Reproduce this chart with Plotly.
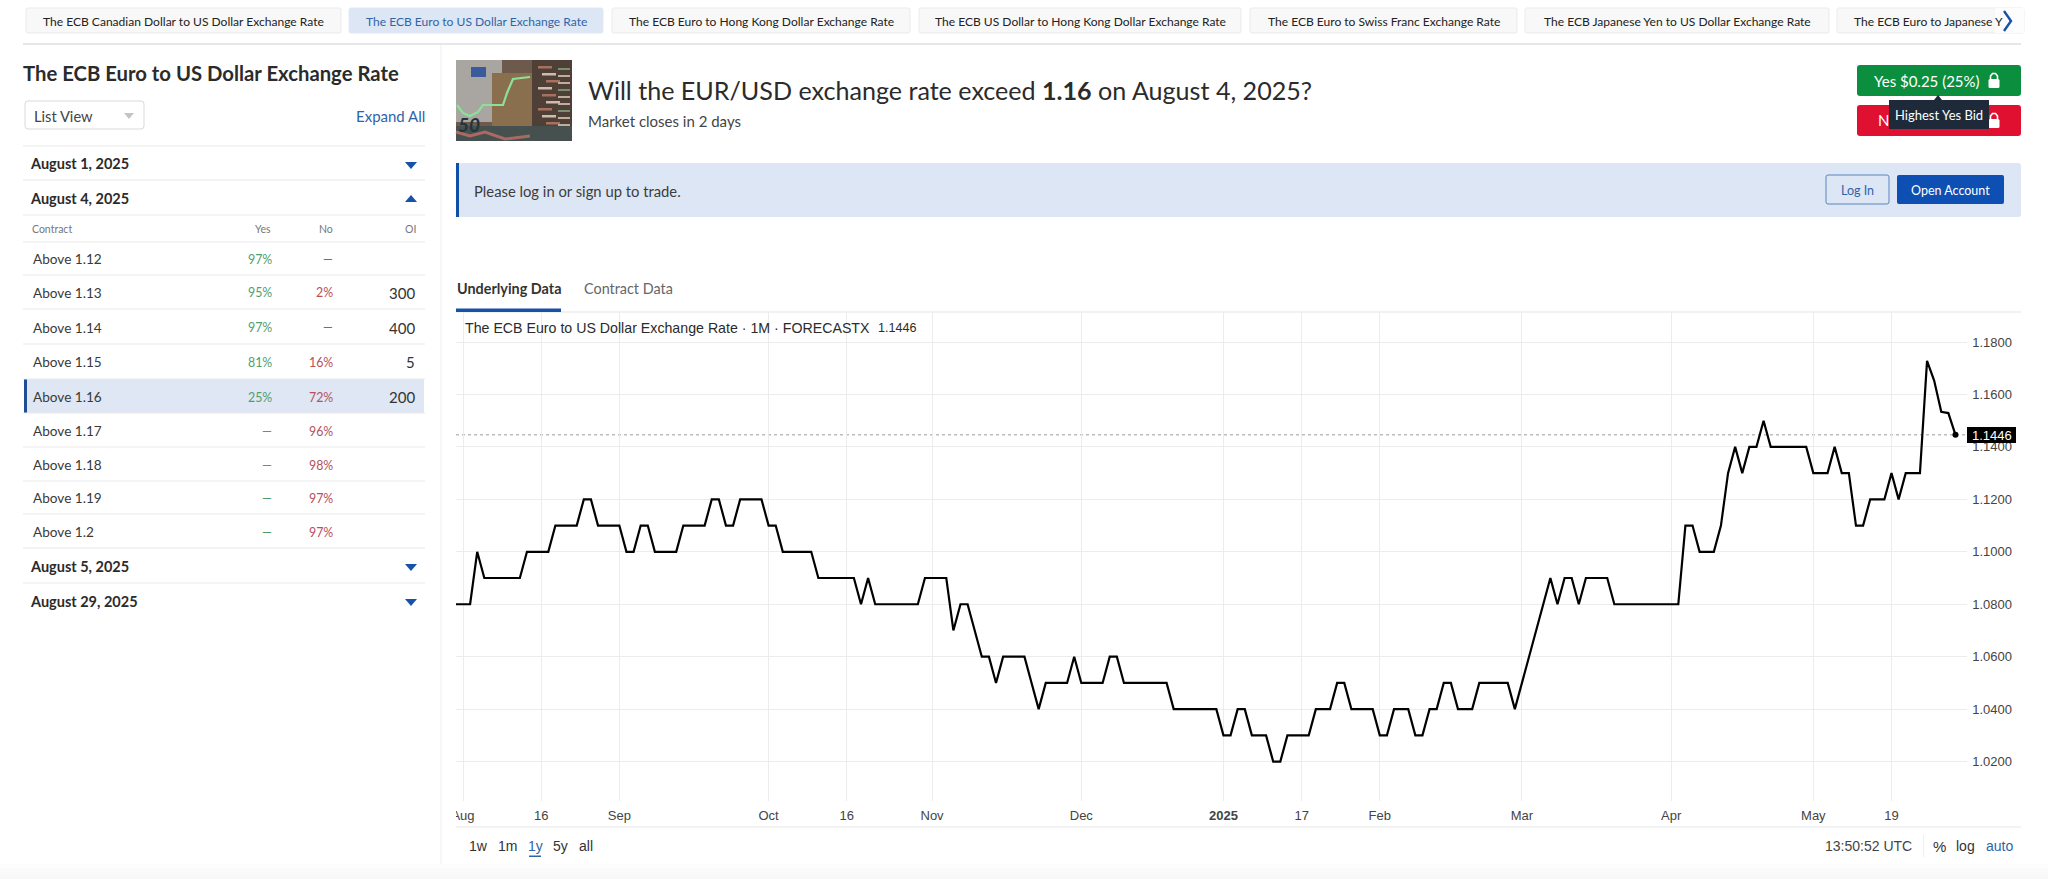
import pandas as pd
import plotly.graph_objects as go

W, H = 2048, 879
UI_FONT = "Lato"
CHART_FONT = "Liberation Sans"
BLUE = "#1552a8"
GRID = "#ececec"

# ---- data ----
holidays = ["2024-12-25", "2024-12-26", "2025-01-01", "2025-04-18", "2025-04-21", "2025-05-01"]
dates = [d.strftime("%Y-%m-%d") for d in pd.bdate_range("2024-07-31", "2025-05-30") if d.strftime("%Y-%m-%d") not in holidays]

rate = [
    1.08, 1.08, 1.08, 1.10, 1.09, 1.09, 1.09, 1.09, 1.09, 1.09, 1.10, 1.10, 1.10, 1.10,
    1.11, 1.11, 1.11, 1.11, 1.12, 1.12, 1.11, 1.11, 1.11, 1.11, 1.10, 1.10, 1.11, 1.11,
    1.10, 1.10, 1.10, 1.10, 1.11, 1.11, 1.11, 1.11, 1.12, 1.12, 1.11, 1.11, 1.12, 1.12,
    1.12, 1.12, 1.11, 1.11, 1.10, 1.10, 1.10, 1.10, 1.10, 1.09, 1.09, 1.09, 1.09, 1.09,
    1.09, 1.08, 1.09, 1.08, 1.08, 1.08, 1.08, 1.08, 1.08, 1.08, 1.09, 1.09, 1.09, 1.09,
    1.07, 1.08, 1.08, 1.07, 1.06, 1.06, 1.05, 1.06, 1.06, 1.06, 1.06, 1.05, 1.04, 1.05,
    1.05, 1.05, 1.05, 1.06, 1.05, 1.05, 1.05, 1.05, 1.06, 1.06, 1.05, 1.05, 1.05, 1.05,
    1.05, 1.05, 1.05, 1.04, 1.04, 1.04, 1.04, 1.04, 1.04, 1.04, 1.03, 1.03, 1.04, 1.04,
    1.03, 1.03, 1.03, 1.02, 1.02, 1.03, 1.03, 1.03, 1.03, 1.04, 1.04, 1.04, 1.05, 1.05,
    1.04, 1.04, 1.04, 1.04, 1.03, 1.03, 1.04, 1.04, 1.04, 1.03, 1.03, 1.04, 1.04, 1.05,
    1.05, 1.04, 1.04, 1.04, 1.05, 1.05, 1.05, 1.05, 1.05, 1.04, 1.05, 1.06, 1.07, 1.08,
    1.09, 1.08, 1.09, 1.09, 1.08, 1.09, 1.09, 1.09, 1.09, 1.08, 1.08, 1.08, 1.08, 1.08,
    1.08, 1.08, 1.08, 1.08, 1.08, 1.11, 1.11, 1.10, 1.10, 1.10, 1.11, 1.13, 1.14, 1.13,
    1.14, 1.14, 1.15, 1.14, 1.14, 1.14, 1.14, 1.14, 1.14, 1.13, 1.13, 1.13, 1.14, 1.13,
    1.13, 1.11, 1.11, 1.12, 1.12, 1.12, 1.13, 1.12, 1.13, 1.13, 1.13, 1.1728, 1.1653,
    1.1534, 1.1529, 1.1446,
]
last_price = 1.1446

x_tick_dates = ["2024-08-01", "2024-08-16", "2024-09-02", "2024-10-01", "2024-10-16", "2024-11-01", "2024-12-02",
                "2025-01-02", "2025-01-17", "2025-02-03", "2025-03-03", "2025-04-01", "2025-05-02", "2025-05-19"]
x_tick_labels = ["Aug", "16", "Sep", "Oct", "16", "Nov", "Dec", "<b>2025</b>", "17", "Feb", "Mar", "Apr", "May", "19"]
y_ticks = [1.02, 1.04, 1.06, 1.08, 1.10, 1.12, 1.14, 1.16, 1.18]

tab_names = ["The ECB Canadian Dollar to US Dollar Exchange Rate", "The ECB Euro to US Dollar Exchange Rate",
             "The ECB Euro to Hong Kong Dollar Exchange Rate", "The ECB US Dollar to Hong Kong Dollar Exchange Rate",
             "The ECB Euro to Swiss Franc Exchange Rate", "The ECB Japanese Yen to US Dollar Exchange Rate",
             "The ECB Euro to Japanese Y"]
contracts = ["Above 1.12", "Above 1.13", "Above 1.14", "Above 1.15", "Above 1.16", "Above 1.17", "Above 1.18", "Above 1.19", "Above 1.2"]
yes_pct = ["97%", "95%", "97%", "81%", "25%", "—", "—", "—", "—"]
no_pct = ["—", "2%", "—", "16%", "72%", "96%", "98%", "97%", "97%"]
open_int = ["", "300", "400", "5", "200", "", "", "", ""]

# ---- layout numbers (pixels) ----
tab_edges = [(26, 341), (349, 603), (612, 910), (919, 1241), (1250, 1517), (1525, 1829), (1837, 2024)]
row_y = [259, 293, 328, 362, 397, 431, 465, 498, 532]
row_lines = [180, 215, 242, 275, 309, 344, 379, 413, 447, 481, 514, 548, 583]
plot_l, plot_r, plot_t, plot_b = 456, 1966.6, 312, 801


def fx(x):
    return x / W


def fy(y):
    return 1 - y / H


shapes = []
notes = []


def rect(x0, y0, x1, y1, fill, line=None, lw=1, layer="below"):
    shapes.append(dict(type="rect", xref="paper", yref="paper", x0=fx(x0), x1=fx(x1), y0=fy(y0), y1=fy(y1),
                       fillcolor=fill, line=dict(color=line or fill, width=lw if line else 0), layer=layer))


def rrect(x0, y0, x1, y1, r, fill, line=None, lw=1, layer="below"):
    # rounded box as a svg path in paper coordinates
    a, b, c, d = fx(x0), fx(x1), fy(y0), fy(y1)
    rx, ry = r / W, r / H
    p = (f"M {a + rx} {c} L {b - rx} {c} Q {b} {c} {b} {c - ry} L {b} {d + ry} Q {b} {d} {b - rx} {d} "
         f"L {a + rx} {d} Q {a} {d} {a} {d + ry} L {a} {c - ry} Q {a} {c} {a + rx} {c} Z")
    shapes.append(dict(type="path", xref="paper", yref="paper", path=p, fillcolor=fill,
                       line=dict(color=line or fill, width=lw if line else 0), layer=layer))


def hline(y, x0, x1, color="#e9e9e9", lw=1):
    shapes.append(dict(type="line", xref="paper", yref="paper", x0=fx(x0), x1=fx(x1), y0=fy(y), y1=fy(y),
                       line=dict(color=color, width=lw), layer="below"))


def poly(points, color=None, fill=None, lw=1.5, layer="below"):
    p = "M " + " L ".join(f"{fx(x)} {fy(y)}" for x, y in points)
    if fill:
        p += " Z"
    shapes.append(dict(type="path", xref="paper", yref="paper", path=p, fillcolor=fill or "rgba(0,0,0,0)",
                       line=dict(color=color or "rgba(0,0,0,0)", width=lw if color else 0), layer=layer))


def text(x, y, s, size=13, color="#222222", anchor="left", font=UI_FONT):
    notes.append(dict(xref="paper", yref="paper", x=fx(x), y=fy(y), text=s, showarrow=False, xanchor=anchor,
                      yanchor="middle", borderpad=0, font=dict(family=font, size=size, color=color)))


def tri(x, y, up=False):
    s = -1 if up else 1
    poly([(x - 6, y - 3 * s), (x + 6, y - 3 * s), (x, y + 4 * s)], fill=BLUE)


def lock(x, y, color="white"):
    rrect(x - 5.5, y - 2, x + 5.5, y + 7, 1.5, color)
    poly([(x - 3.5, y - 2), (x - 3.5, y - 5), (x - 1.5, y - 7.5), (x + 1.5, y - 7.5), (x + 3.5, y - 5), (x + 3.5, y - 2)], color=color, lw=1.6)


# top tabs
for (x0, x1), name in zip(tab_edges, tab_names):
    on = name == "The ECB Euro to US Dollar Exchange Rate"
    rrect(x0, 8, x1, 33, 2, "#dce6f4" if on else "#f8f8f8", "#e3e8f0" if on else "#ebebeb")
    text((x0 + x1) / 2 if x0 < 1800 else 1853, 21, name, 12.05, "#2f64a8" if on else "#222222", "center" if x0 < 1800 else "left")
rect(1995, 8, 2024, 33, "rgba(255,255,255,0.75)")
poly([(2004, 11), (2011, 21), (2004, 31)], color=BLUE, lw=2.4)
hline(44, 23, 2021, "#dfdfdf", 1.5)

# left panel
text(22, 73, "<b>The ECB Euro to US Dollar Exchange Rate</b>", 20.3, "#2b2b2b")
rrect(25, 101, 144, 129, 3, "white", "#d9d9d9")
text(33, 116, "List View", 14.7, "#444444")
poly([(124, 113), (134, 113), (129, 119)], fill="#c4c4c4")
text(426, 116, "Expand All", 15, "#2f64a8", "right")
shapes.append(dict(type="line", xref="paper", yref="paper", x0=fx(441), x1=fx(441), y0=fy(45), y1=fy(879),
                   line=dict(color="#efefef", width=1), layer="below"))
hline(146, 23, 425)
rect(24, 379, 424, 413, "#dfe7f4")
rect(24, 379, 27, 413, "#1f4e96")
for y in row_lines:
    hline(y, 23, 425)
text(29, 164, "<b>August 1, 2025</b>", 14.5, "#2b2b2b")
tri(411, 165)
text(29, 198, "<b>August 4, 2025</b>", 14.5, "#2b2b2b")
tri(411, 199, up=True)
text(29, 566, "<b>August 5, 2025</b>", 14.5, "#2b2b2b")
tri(411, 567)
text(29, 601, "<b>August 29, 2025</b>", 14.5, "#2b2b2b")
tri(411, 602)
text(31, 229, "Contract", 10.5, "#777777")
text(272, 229, "Yes", 10.5, "#777777", "right")
text(334, 229, "No", 10.5, "#777777", "right")
text(417, 229, "OI", 10.5, "#777777", "right")
for y, c, yes, no, oi in zip(row_y, contracts, yes_pct, no_pct, open_int):
    text(32, y, c, 13.6, "#3a3a3a")
    text(273, y, yes, 12.4, "#4f9e6e", "right")
    text(334, y, no, 12.4, "#b8505c", "right")
    if oi:
        text(416, y, oi, 15, "#333333", "right")

# thumbnail, just a rough painting of the photo
rect(456, 60, 572, 141, "#6e5a4c")
rect(456, 60, 502, 122, "#a9a6a2")
rect(471, 67, 486, 77, "#3a5a9c")
rect(492, 73, 532, 126, "#8a6f4e")
rect(532, 60, 572, 141, "#4f4037")
for i, y in enumerate(range(66, 134, 7)):
    rect(538 + (i % 3) * 4, y, 552 + (i % 3) * 4, y + 2.5, "#cdbcae" if i % 2 else "#a8705f")
    rect(558, y + 2, 570, y + 4, "#bfae9e" if i % 3 else "#7a9070")
rect(456, 126, 572, 141, "#46504e")
poly([(457, 105), (463, 113), (470, 116), (478, 112), (483, 105), (493, 105), (503, 105), (507, 93), (513, 79), (530, 77)], color="#8ce09a", lw=2.2)
poly([(456, 132), (470, 136), (485, 132), (505, 139), (530, 136)], color="#a86a62", lw=3)
text(457, 125, "<b><i>50</i></b>", 19, "#24343c")

# question header
text(587, 90, "Will the EUR/USD exchange rate exceed <b>1.16</b> on August 4, 2025?", 25.1, "#2b2b2b")
text(587, 121, "Market closes in 2 days", 15, "#444444")
rrect(1857, 65, 2021, 96, 3, "#0b8f3e")
text(1927, 81, "Yes $0.25 (25%)", 15, "white", "center")
lock(1994, 81)
rrect(1857, 105, 2021, 136, 3, "#e01030")
text(1883, 120, "N", 15, "white", "center")
lock(1994, 121)
rect(1889, 100, 1989, 129, "#1e2a3a")
poly([(1934, 100), (1942, 100), (1938, 95)], fill="#1e2a3a")
text(1939, 115, "Highest Yes Bid", 13, "white", "center")

# login banner
rrect(456, 163, 2021, 217, 3, "#dce6f4")
rect(456, 163, 459, 217, "#0f4fa8")
text(473, 191, "Please log in or sign up to trade.", 14.8, "#3c3c3c")
rrect(1826, 175, 1889, 204, 2, "rgba(0,0,0,0)", "#5b86bd")
text(1857.5, 190, "Log In", 12.5, "#2f64a8", "center")
rrect(1897, 175, 2004, 204, 2, "#0d4fb3")
text(1950, 190, "Open Account", 12.5, "white", "center")

# chart tabs and frame
text(456, 288, "<b>Underlying Data</b>", 14.4, "#333333")
text(583, 288, "Contract Data", 14.4, "#666666")
hline(312, 456, 2021, "#e3e3e3")
rect(456, 308.5, 561, 312, BLUE)
hline(827, 456, 2021, "#e6e6e6")

# chart header and footer
text(464, 328, "The ECB Euro to US Dollar Exchange Rate · 1M · FORECASTX", 14.2, "#2b2b2b", font=CHART_FONT)
text(877, 328, "1.1446", 12.6, "#2b2b2b", font=CHART_FONT)
for x, label in zip([478, 507.5, 535, 560.5, 585.6], ["1w", "1m", "1y", "5y", "all"]):
    text(x, 846, label, 14, "#2f64a8" if label == "1y" else "#333333", "center", CHART_FONT)
rect(529, 855.5, 541, 857, "#2f64a8")
text(1913, 846, "13:50:52 UTC", 14, "#444444", "right", CHART_FONT)
shapes.append(dict(type="line", xref="paper", yref="paper", x0=fx(1923.6), x1=fx(1923.6), y0=fy(835), y1=fy(857),
                   line=dict(color="#eeeeee", width=1), layer="below"))
text(1939, 846, "%", 15, "#333333", "center", CHART_FONT)
text(1965.6, 846, "log", 14, "#333333", "center", CHART_FONT)
text(1999, 846, "auto", 14, "#2f64a8", "center", CHART_FONT)

# last price tag
rect(1967, 427, 2016, 443, "black", layer="above")
text(1991.5, 435, "1.1446", 13, "white", "center", CHART_FONT)
# the first date label is cut off by the pane edge
rect(445, 806, 456, 824, "white", layer="above")
# grey fade at the bottom of the page
for i, c in enumerate(["#fdfdfd", "#fbfbfb", "#f9f9f9", "#f7f7f7"]):
    rect(0, 864 + i * 4, W, 879, c)

# dotted last price line
shapes.append(dict(type="line", xref="paper", yref="y", x0=fx(plot_l), x1=fx(plot_r), y0=last_price, y1=last_price,
                   line=dict(color="#bdbdbd", width=1.5, dash="dot"), layer="below"))

fig = go.Figure()
fig.add_trace(go.Scatter(x=dates, y=rate, mode="lines", line=dict(color="black", width=2.2), hoverinfo="skip"))
fig.add_trace(go.Scatter(x=dates[-1:], y=rate[-1:], mode="markers", marker=dict(color="black", size=6), hoverinfo="skip"))

y_scale = (761.6 - 342) / 0.16  # px per unit of the rate
bar = 7.107  # px per trading day
fig.update_layout(
    width=W, height=H, autosize=False, showlegend=False,
    margin=dict(l=0, r=0, t=0, b=0, autoexpand=False), paper_bgcolor="white", plot_bgcolor="white",
    shapes=shapes, annotations=notes,
    xaxis=dict(type="category", domain=[fx(plot_l), fx(plot_r)], range=[1 + (plot_l - 463) / bar, 1 + (plot_r - 463) / bar],
               tickmode="array", tickvals=x_tick_dates, ticktext=x_tick_labels, showgrid=True, gridcolor=GRID, gridwidth=1,
               zeroline=False, showline=False, ticks="outside", ticklen=2, tickcolor="rgba(0,0,0,0)",
               tickfont=dict(family=CHART_FONT, size=13, color="#444444")),
    yaxis=dict(domain=[fy(plot_b), fy(plot_t)], side="right", range=[1.02 - (plot_b - 761.6) / y_scale, 1.18 + (342 - plot_t) / y_scale],
               tickmode="array", tickvals=y_ticks, tickformat=".4f", showgrid=True, gridcolor=GRID, gridwidth=1,
               zeroline=False, showline=False, ticks="outside", ticklen=2, tickcolor="rgba(0,0,0,0)",
               tickfont=dict(family=CHART_FONT, size=13, color="#444444")),
)

fig.write_html("out.html", config=dict(displayModeBar=False), post_script="document.body.style.margin='0';document.body.style.overflow='hidden';")
